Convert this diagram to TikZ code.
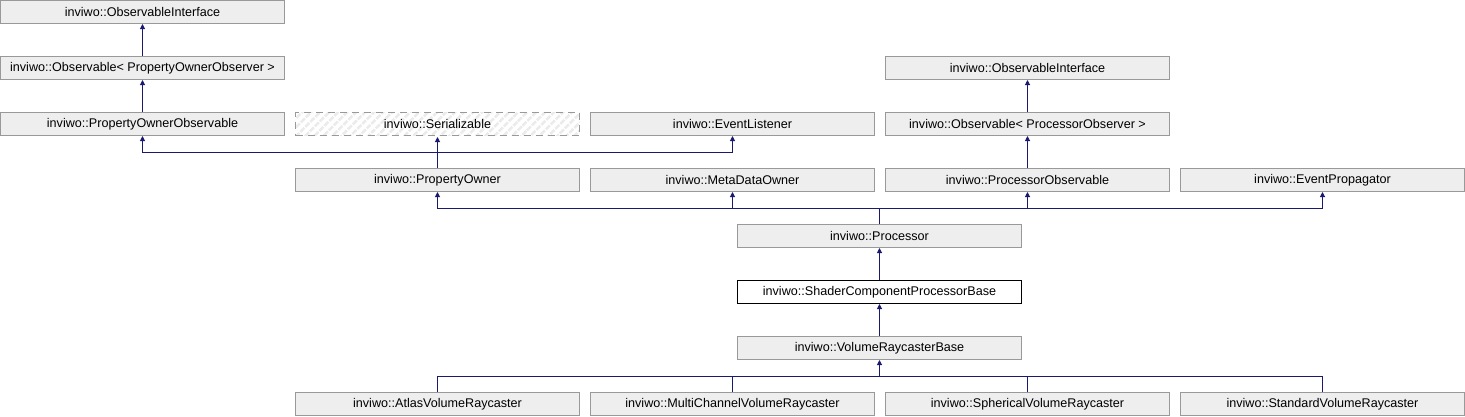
\documentclass[tikz,border=0pt]{standalone}
\usepackage{fontspec}
\setmainfont{Liberation Sans}
\usetikzlibrary{arrows.meta,patterns.meta}
\definecolor{boxfill}{HTML}{EEEEEE}
\definecolor{boxline}{HTML}{999999}
\definecolor{edgeblue}{HTML}{191970}
\tikzset{
  klass/.style={draw=boxline, fill=boxfill, line width=1pt, minimum width=284pt,
    minimum height=23pt, inner sep=0pt, font=\fontsize{12.6}{14}\selectfont},
  current/.style={klass, draw=black, fill=white},
  undoc/.style={klass, dash pattern=on 7pt off 5pt,
    pattern={Lines[angle=45,distance=6.5pt,line width=3pt]}, pattern color=black!8},
  link/.style={draw=edgeblue, line width=1pt},
  inh/.style={link, -{Triangle[length=5pt,width=5pt]}}
}
\begin{document}
\begin{tikzpicture}[x=1pt,y=-1pt]
    \useasboundingbox (0,0) rectangle (1465,416);

    \node[klass] (OIa) at (142.5,12) {inviwo::ObservableInterface};
    \node[klass] (OBa) at (142.5,68) {inviwo::Observable< PropertyOwnerObserver >};
    \node[klass] (POO) at (142.5,124) {inviwo::PropertyOwnerObservable};
    \node[undoc] (SER) at (437.5,124) {inviwo::Serializable};
    \node[klass] (EL) at (732.5,124) {inviwo::EventListener};

    \node[klass] (OIb) at (1027.5,68) {inviwo::ObservableInterface};
    \node[klass] (OBb) at (1027.5,124) {inviwo::Observable< ProcessorObserver >};

    \node[klass] (PO) at (437.5,180) {inviwo::PropertyOwner};
    \node[klass] (MDO) at (732.5,180) {inviwo::MetaDataOwner};
    \node[klass] (PRO) at (1027.5,180) {inviwo::ProcessorObservable};
    \node[klass] (EP) at (1322.5,180) {inviwo::EventPropagator};

    \node[klass] (P) at (879.5,236) {inviwo::Processor};
    \node[current] (SCPB) at (879.5,292) {inviwo::ShaderComponentProcessorBase};
    \node[klass] (VRB) at (879.5,348) {inviwo::VolumeRaycasterBase};

    \node[klass] (AVR) at (437.5,404) {inviwo::AtlasVolumeRaycaster};
    \node[klass] (MCVR) at (732.5,404) {inviwo::MultiChannelVolumeRaycaster};
    \node[klass] (SVR) at (1027.5,404) {inviwo::SphericalVolumeRaycaster};
    \node[klass] (STVR) at (1322.5,404) {inviwo::StandardVolumeRaycaster};

    \coordinate (J1) at (437.5,152);
    \coordinate (J2) at (879.5,208);
    \coordinate (J3) at (879.5,376);

    \draw[inh] (OBa) -- (OIa);
    \draw[inh] (POO) -- (OBa);
    \draw[inh] (OBb) -- (OIb);
    \draw[inh] (PRO) -- (OBb);

    \draw[link] (PO.north) -- (J1);
    \draw[inh] (J1) -| (POO.south);
    \draw[inh] (J1) -- (SER.south);
    \draw[inh] (J1) -| (EL.south);

    \draw[link] (P.north) -- (J2);
    \foreach \n in {PO,MDO,PRO,EP}
      \draw[inh] (J2) -| (\n.south);

    \draw[inh] (SCPB) -- (P);
    \draw[inh] (VRB) -- (SCPB);

    \draw[inh] (J3) -- (VRB.south);
    \foreach \n in {AVR,MCVR,SVR,STVR}
      \draw[link] (\n.north) |- (J3);
  \end{tikzpicture}
\end{document}
